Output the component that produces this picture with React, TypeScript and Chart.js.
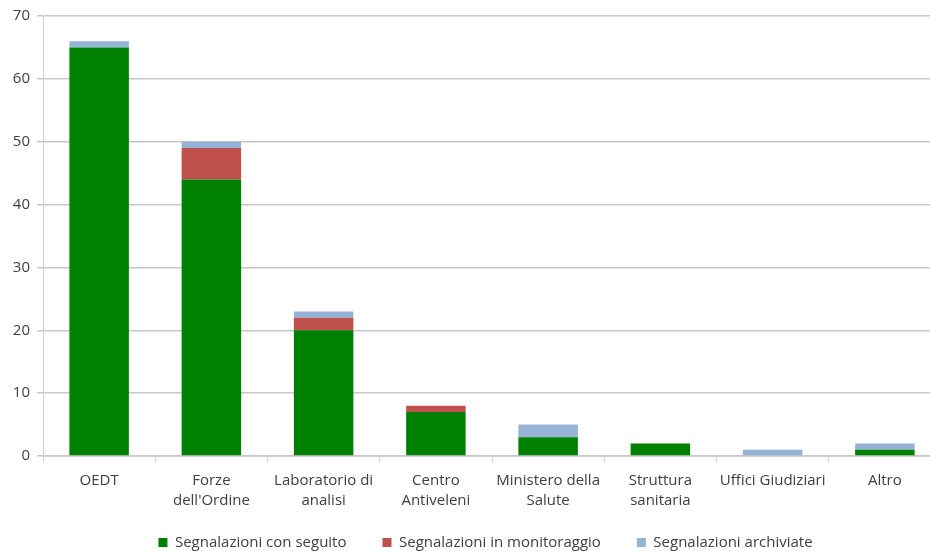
import React, { useEffect, useRef } from "react";
import { Chart, registerables } from "chart.js";

Chart.register(...registerables);

const categories: (string | string[])[] = [
  "OEDT",
  ["Forze", "dell'Ordine"],
  ["Laboratorio di", "analisi"],
  ["Centro", "Antiveleni"],
  ["Ministero della", "Salute"],
  ["Struttura", "sanitaria"],
  "Uffici Giudiziari",
  "Altro",
];

const conSeguito = [65, 44, 20, 7, 3, 2, 0, 1];
const inMonitoraggio = [0, 5, 2, 1, 0, 0, 0, 0];
const archiviate = [1, 1, 1, 0, 2, 0, 1, 1];

const seriesNames = [
  "Segnalazioni con seguito",
  "Segnalazioni in monitoraggio",
  "Segnalazioni archiviate",
];

const FONT = "'Open Sans', 'Liberation Sans', sans-serif";

// Moves the legend a little so it sits tight under the category labels.
const legendOffset = {
  id: "legendOffset",
  afterLayout(chart: any) {
    const l = chart.legend;
    if (!l) return;
    const dx = 15;
    const dy = -15;
    l.left += dx;
    l.right += dx;
    l.top += dy;
    l.bottom += dy;
  },
};

export default function App() {
  const ref = useRef<HTMLCanvasElement | null>(null);

  useEffect(() => {
    if (!ref.current) return;
    const chart = new Chart(ref.current, {
      type: "bar",
      data: {
        labels: categories,
        datasets: [
          { label: seriesNames[0], data: conSeguito, backgroundColor: "#008000" },
          { label: seriesNames[1], data: inMonitoraggio, backgroundColor: "#c0504d" },
          { label: seriesNames[2], data: archiviate, backgroundColor: "#95b3d7" },
        ],
      },
      plugins: [legendOffset],
      options: {
        animation: false,
        responsive: false,
        maintainAspectRatio: false,
        layout: { padding: { left: 0, right: 4, top: 12, bottom: 0 } },
        datasets: {
          bar: { barPercentage: 0.53, categoryPercentage: 1 },
        },
        plugins: {
          tooltip: { enabled: false },
          legend: {
            position: "bottom",
            labels: {
              boxWidth: 9,
              boxHeight: 9,
              padding: 36,
              color: "#404040",
              font: { family: FONT, size: 15 },
            },
          },
        },
        scales: {
          x: {
            stacked: true,
            grid: {
              offset: true,
              drawOnChartArea: false,
              drawTicks: true,
              tickLength: 6,
              color: "#d0d0d0",
            },
            border: { color: "#d0d0d0", width: 1 },
            ticks: {
              color: "#404040",
              font: { family: FONT, size: 15, lineHeight: 1.33 },
              maxRotation: 0,
              autoSkip: false,
              padding: 9,
            },
            afterFit: (s: any) => {
              s.height = 58;
            },
          },
          y: {
            stacked: true,
            min: 0,
            max: 70,
            ticks: {
              stepSize: 10,
              color: "#404040",
              font: { family: FONT, size: 15 },
              padding: 7,
            },
            grid: {
              color: "#c8c8c8",
              lineWidth: 1.5,
              tickLength: 6,
            },
            border: { color: "#d0d0d0", width: 1 },
            afterFit: (s: any) => {
              s.width = 43;
            },
          },
        },
      },
    });
    return () => chart.destroy();
  }, []);

  return (
    <div
      style={{
        position: "fixed",
        left: 0,
        top: 0,
        width: 930,
        height: 551,
        overflow: "hidden",
        background: "#fff",
      }}
    >
      <canvas ref={ref} width={945} height={575} style={{ display: "block" }} />
    </div>
  );
}
